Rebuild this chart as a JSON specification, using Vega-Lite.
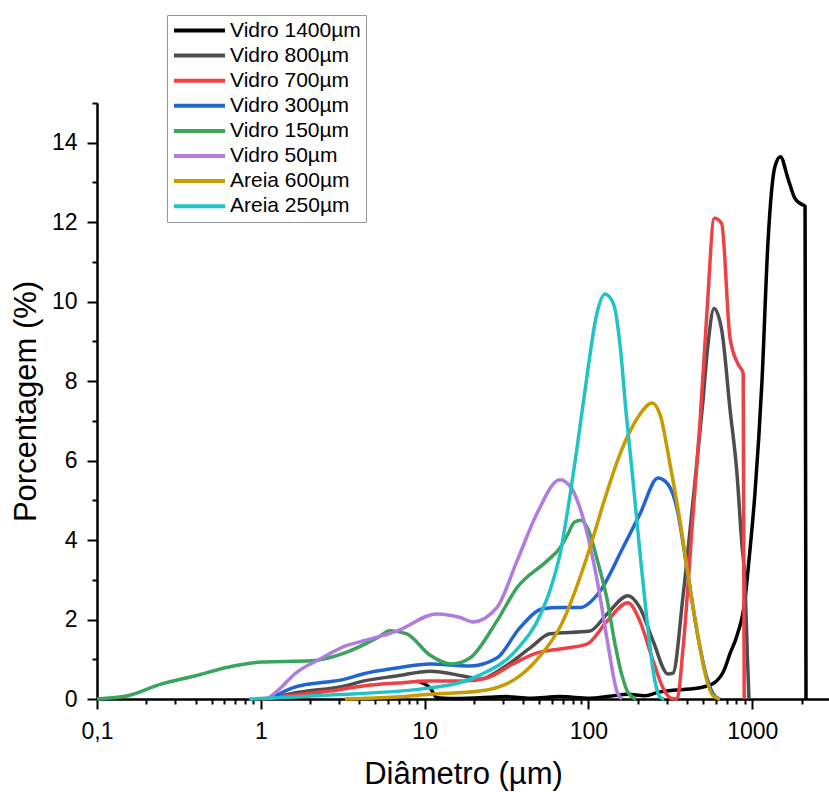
{
  "$schema": "https://vega.github.io/schema/vega-lite/v6.json",
  "autosize": {"type": "none"},
  "width": 732,
  "height": 596,
  "padding": {"left": 97, "top": 103, "right": 0, "bottom": 93},
  "background": "white",
  "config": {
    "view": {"stroke": null},
    "font": "Liberation Sans",
    "axis": {"grid": false, "domainColor": "black", "domainWidth": 2, "tickColor": "black", "tickWidth": 2, "labelColor": "black", "titleColor": "black", "labelFont": "Liberation Sans", "titleFont": "Liberation Sans", "titleFontWeight": "normal", "labelFlush": false, "labelOverlap": false}
  },
  "data": {"values": [
    {"serie": "Vidro 1400µm", "d": 9.0, "p": 0.45},
    {"serie": "Vidro 1400µm", "d": 10.8, "p": 0.28},
    {"serie": "Vidro 1400µm", "d": 11.9, "p": 0.03},
    {"serie": "Vidro 1400µm", "d": 14.3, "p": 0.01},
    {"serie": "Vidro 1400µm", "d": 21.7, "p": 0.03},
    {"serie": "Vidro 1400µm", "d": 31.8, "p": 0.06},
    {"serie": "Vidro 1400µm", "d": 43.9, "p": 0.02},
    {"serie": "Vidro 1400µm", "d": 66.9, "p": 0.06},
    {"serie": "Vidro 1400µm", "d": 102, "p": 0.02},
    {"serie": "Vidro 1400µm", "d": 135, "p": 0.07},
    {"serie": "Vidro 1400µm", "d": 174, "p": 0.12},
    {"serie": "Vidro 1400µm", "d": 220, "p": 0.08},
    {"serie": "Vidro 1400µm", "d": 273, "p": 0.18},
    {"serie": "Vidro 1400µm", "d": 328, "p": 0.22},
    {"serie": "Vidro 1400µm", "d": 417, "p": 0.25},
    {"serie": "Vidro 1400µm", "d": 500, "p": 0.3},
    {"serie": "Vidro 1400µm", "d": 592, "p": 0.42},
    {"serie": "Vidro 1400µm", "d": 672, "p": 0.72},
    {"serie": "Vidro 1400µm", "d": 731, "p": 1.14},
    {"serie": "Vidro 1400µm", "d": 807, "p": 1.6},
    {"serie": "Vidro 1400µm", "d": 903, "p": 2.5},
    {"serie": "Vidro 1400µm", "d": 955, "p": 3.5},
    {"serie": "Vidro 1400µm", "d": 1038, "p": 5.17},
    {"serie": "Vidro 1400µm", "d": 1146, "p": 8.0},
    {"serie": "Vidro 1400µm", "d": 1247, "p": 11.5},
    {"serie": "Vidro 1400µm", "d": 1375, "p": 13.4},
    {"serie": "Vidro 1400µm", "d": 1485, "p": 13.65},
    {"serie": "Vidro 1400µm", "d": 1651, "p": 13.1},
    {"serie": "Vidro 1400µm", "d": 1820, "p": 12.6},
    {"serie": "Vidro 1400µm", "d": 2000, "p": 12.45},
    {"serie": "Vidro 1400µm", "d": 2100, "p": 12.4},
    {"serie": "Vidro 1400µm", "d": 2128, "p": 0},

    {"serie": "Vidro 800µm", "d": 1.135, "p": 0},
    {"serie": "Vidro 800µm", "d": 1.61, "p": 0.15},
    {"serie": "Vidro 800µm", "d": 3.26, "p": 0.33},
    {"serie": "Vidro 800µm", "d": 4.2, "p": 0.45},
    {"serie": "Vidro 800µm", "d": 6.76, "p": 0.58},
    {"serie": "Vidro 800µm", "d": 10.8, "p": 0.7},
    {"serie": "Vidro 800µm", "d": 17.1, "p": 0.58},
    {"serie": "Vidro 800µm", "d": 21.7, "p": 0.5},
    {"serie": "Vidro 800µm", "d": 30, "p": 0.78},
    {"serie": "Vidro 800µm", "d": 43.9, "p": 1.28},
    {"serie": "Vidro 800µm", "d": 58.2, "p": 1.64},
    {"serie": "Vidro 800µm", "d": 102, "p": 1.71},
    {"serie": "Vidro 800µm", "d": 130, "p": 2.14},
    {"serie": "Vidro 800µm", "d": 174, "p": 2.6},
    {"serie": "Vidro 800µm", "d": 206, "p": 2.3},
    {"serie": "Vidro 800µm", "d": 248, "p": 1.46},
    {"serie": "Vidro 800µm", "d": 306, "p": 0.63},
    {"serie": "Vidro 800µm", "d": 328, "p": 0.65},
    {"serie": "Vidro 800µm", "d": 378, "p": 2.6},
    {"serie": "Vidro 800µm", "d": 435, "p": 5.0},
    {"serie": "Vidro 800µm", "d": 500, "p": 7.5},
    {"serie": "Vidro 800µm", "d": 536, "p": 8.9},
    {"serie": "Vidro 800µm", "d": 584, "p": 9.83},
    {"serie": "Vidro 800µm", "d": 653, "p": 9.25},
    {"serie": "Vidro 800µm", "d": 731, "p": 7.3},
    {"serie": "Vidro 800µm", "d": 807, "p": 5.66},
    {"serie": "Vidro 800µm", "d": 860, "p": 4.0},
    {"serie": "Vidro 800µm", "d": 903, "p": 2.9},
    {"serie": "Vidro 800µm", "d": 935, "p": 1.0},
    {"serie": "Vidro 800µm", "d": 955, "p": 0},

    {"serie": "Vidro 700µm", "d": 1.01, "p": 0},
    {"serie": "Vidro 700µm", "d": 1.61, "p": 0.1},
    {"serie": "Vidro 700µm", "d": 2.64, "p": 0.2},
    {"serie": "Vidro 700µm", "d": 4.2, "p": 0.33},
    {"serie": "Vidro 700µm", "d": 6.76, "p": 0.4},
    {"serie": "Vidro 700µm", "d": 10.8, "p": 0.45},
    {"serie": "Vidro 700µm", "d": 17.1, "p": 0.45},
    {"serie": "Vidro 700µm", "d": 24, "p": 0.53},
    {"serie": "Vidro 700µm", "d": 34.6, "p": 0.88},
    {"serie": "Vidro 700µm", "d": 48.5, "p": 1.16},
    {"serie": "Vidro 700µm", "d": 66.9, "p": 1.26},
    {"serie": "Vidro 700µm", "d": 97.8, "p": 1.38},
    {"serie": "Vidro 700µm", "d": 130, "p": 1.96},
    {"serie": "Vidro 700µm", "d": 174, "p": 2.42},
    {"serie": "Vidro 700µm", "d": 206, "p": 1.96},
    {"serie": "Vidro 700µm", "d": 248, "p": 0.96},
    {"serie": "Vidro 700µm", "d": 285, "p": 0.28},
    {"serie": "Vidro 700µm", "d": 315, "p": 0.03},
    {"serie": "Vidro 700µm", "d": 347, "p": 0},
    {"serie": "Vidro 700µm", "d": 378, "p": 1.28},
    {"serie": "Vidro 700µm", "d": 435, "p": 4.65},
    {"serie": "Vidro 700µm", "d": 480, "p": 7.0},
    {"serie": "Vidro 700µm", "d": 530, "p": 9.8},
    {"serie": "Vidro 700µm", "d": 586, "p": 12.1},
    {"serie": "Vidro 700µm", "d": 650, "p": 11.97},
    {"serie": "Vidro 700µm", "d": 731, "p": 9.09},
    {"serie": "Vidro 700µm", "d": 818, "p": 8.43},
    {"serie": "Vidro 700µm", "d": 880, "p": 8.2},
    {"serie": "Vidro 700µm", "d": 893, "p": 0},

    {"serie": "Vidro 300µm", "d": 1.135, "p": 0},
    {"serie": "Vidro 300µm", "d": 1.61, "p": 0.3},
    {"serie": "Vidro 300µm", "d": 3.26, "p": 0.5},
    {"serie": "Vidro 300µm", "d": 4.2, "p": 0.63},
    {"serie": "Vidro 300µm", "d": 6.76, "p": 0.78},
    {"serie": "Vidro 300µm", "d": 10.8, "p": 0.88},
    {"serie": "Vidro 300µm", "d": 18.9, "p": 0.83},
    {"serie": "Vidro 300µm", "d": 27.6, "p": 1.03},
    {"serie": "Vidro 300µm", "d": 38.1, "p": 1.79},
    {"serie": "Vidro 300µm", "d": 52.7, "p": 2.27},
    {"serie": "Vidro 300µm", "d": 66.9, "p": 2.3},
    {"serie": "Vidro 300µm", "d": 88.6, "p": 2.3},
    {"serie": "Vidro 300µm", "d": 117, "p": 2.7},
    {"serie": "Vidro 300µm", "d": 162, "p": 3.8},
    {"serie": "Vidro 300µm", "d": 206, "p": 4.65},
    {"serie": "Vidro 300µm", "d": 266, "p": 5.56},
    {"serie": "Vidro 300µm", "d": 306, "p": 5.4},
    {"serie": "Vidro 300µm", "d": 347, "p": 4.8},
    {"serie": "Vidro 300µm", "d": 399, "p": 3.3},
    {"serie": "Vidro 300µm", "d": 460, "p": 1.7},
    {"serie": "Vidro 300µm", "d": 529, "p": 0.53},
    {"serie": "Vidro 300µm", "d": 592, "p": 0.07},
    {"serie": "Vidro 300µm", "d": 635, "p": 0},

    {"serie": "Vidro 150µm", "d": 0.1, "p": 0},
    {"serie": "Vidro 150µm", "d": 0.154, "p": 0.08},
    {"serie": "Vidro 150µm", "d": 0.248, "p": 0.38},
    {"serie": "Vidro 150µm", "d": 0.395, "p": 0.58},
    {"serie": "Vidro 150µm", "d": 0.628, "p": 0.8},
    {"serie": "Vidro 150µm", "d": 1.01, "p": 0.93},
    {"serie": "Vidro 150µm", "d": 2.05, "p": 0.96},
    {"serie": "Vidro 150µm", "d": 3.26, "p": 1.16},
    {"serie": "Vidro 150µm", "d": 5.18, "p": 1.55},
    {"serie": "Vidro 150µm", "d": 6.13, "p": 1.72},
    {"serie": "Vidro 150µm", "d": 7.78, "p": 1.64},
    {"serie": "Vidro 150µm", "d": 10.8, "p": 1.1},
    {"serie": "Vidro 150µm", "d": 14.7, "p": 0.88},
    {"serie": "Vidro 150µm", "d": 18.9, "p": 1.03},
    {"serie": "Vidro 150µm", "d": 27.6, "p": 1.96},
    {"serie": "Vidro 150µm", "d": 36.6, "p": 2.8},
    {"serie": "Vidro 150µm", "d": 55.7, "p": 3.47},
    {"serie": "Vidro 150µm", "d": 66.9, "p": 3.8},
    {"serie": "Vidro 150µm", "d": 74.9, "p": 4.15},
    {"serie": "Vidro 150µm", "d": 82, "p": 4.45},
    {"serie": "Vidro 150µm", "d": 90, "p": 4.5},
    {"serie": "Vidro 150µm", "d": 100, "p": 4.25},
    {"serie": "Vidro 150µm", "d": 114, "p": 3.45},
    {"serie": "Vidro 150µm", "d": 130, "p": 2.5},
    {"serie": "Vidro 150µm", "d": 145, "p": 1.4},
    {"serie": "Vidro 150µm", "d": 160, "p": 0.6},
    {"serie": "Vidro 150µm", "d": 175, "p": 0.15},
    {"serie": "Vidro 150µm", "d": 195, "p": 0},

    {"serie": "Vidro 50µm", "d": 1.1, "p": 0},
    {"serie": "Vidro 50µm", "d": 1.3, "p": 0.25},
    {"serie": "Vidro 50µm", "d": 1.61, "p": 0.63},
    {"serie": "Vidro 50µm", "d": 2.36, "p": 1.03},
    {"serie": "Vidro 50µm", "d": 3.26, "p": 1.33},
    {"serie": "Vidro 50µm", "d": 4.2, "p": 1.46},
    {"serie": "Vidro 50µm", "d": 6.76, "p": 1.71},
    {"serie": "Vidro 50µm", "d": 11.9, "p": 2.14},
    {"serie": "Vidro 50µm", "d": 16.5, "p": 2.05},
    {"serie": "Vidro 50µm", "d": 19.7, "p": 1.94},
    {"serie": "Vidro 50µm", "d": 27.6, "p": 2.3},
    {"serie": "Vidro 50µm", "d": 36.6, "p": 3.47},
    {"serie": "Vidro 50µm", "d": 48.5, "p": 4.67},
    {"serie": "Vidro 50µm", "d": 67, "p": 5.52},
    {"serie": "Vidro 50µm", "d": 79, "p": 5.3},
    {"serie": "Vidro 50µm", "d": 92, "p": 4.6},
    {"serie": "Vidro 50µm", "d": 114, "p": 2.9},
    {"serie": "Vidro 50µm", "d": 130, "p": 1.5},
    {"serie": "Vidro 50µm", "d": 149, "p": 0.2},
    {"serie": "Vidro 50µm", "d": 160, "p": 0},

    {"serie": "Areia 600µm", "d": 3.26, "p": 0},
    {"serie": "Areia 600µm", "d": 6.76, "p": 0.05},
    {"serie": "Areia 600µm", "d": 10.8, "p": 0.12},
    {"serie": "Areia 600µm", "d": 21.7, "p": 0.2},
    {"serie": "Areia 600µm", "d": 36.6, "p": 0.53},
    {"serie": "Areia 600µm", "d": 51, "p": 1.1},
    {"serie": "Areia 600µm", "d": 66.9, "p": 1.8},
    {"serie": "Areia 600µm", "d": 102, "p": 3.8},
    {"serie": "Areia 600µm", "d": 125, "p": 5.0},
    {"serie": "Areia 600µm", "d": 149, "p": 5.95},
    {"serie": "Areia 600µm", "d": 175, "p": 6.65},
    {"serie": "Areia 600µm", "d": 205, "p": 7.15},
    {"serie": "Areia 600µm", "d": 244, "p": 7.45},
    {"serie": "Areia 600µm", "d": 273, "p": 7.17},
    {"serie": "Areia 600µm", "d": 315, "p": 5.9},
    {"serie": "Areia 600µm", "d": 362, "p": 4.48},
    {"serie": "Areia 600µm", "d": 417, "p": 2.8},
    {"serie": "Areia 600µm", "d": 480, "p": 1.28},
    {"serie": "Areia 600µm", "d": 529, "p": 0.45},
    {"serie": "Areia 600µm", "d": 576, "p": 0.08},
    {"serie": "Areia 600µm", "d": 635, "p": 0},

    {"serie": "Areia 250µm", "d": 0.85, "p": 0},
    {"serie": "Areia 250µm", "d": 2.64, "p": 0.1},
    {"serie": "Areia 250µm", "d": 10.8, "p": 0.28},
    {"serie": "Areia 250µm", "d": 21.7, "p": 0.6},
    {"serie": "Areia 250µm", "d": 36.6, "p": 1.25},
    {"serie": "Areia 250µm", "d": 50.6, "p": 2.1},
    {"serie": "Areia 250µm", "d": 60, "p": 2.9},
    {"serie": "Areia 250µm", "d": 67.5, "p": 3.7},
    {"serie": "Areia 250µm", "d": 75, "p": 4.8},
    {"serie": "Areia 250µm", "d": 85, "p": 6.3},
    {"serie": "Areia 250µm", "d": 97, "p": 8.0},
    {"serie": "Areia 250µm", "d": 112, "p": 9.66},
    {"serie": "Areia 250µm", "d": 126, "p": 10.19},
    {"serie": "Areia 250µm", "d": 142, "p": 9.95},
    {"serie": "Areia 250µm", "d": 156, "p": 8.9},
    {"serie": "Areia 250µm", "d": 170, "p": 7.18},
    {"serie": "Areia 250µm", "d": 187, "p": 5.5},
    {"serie": "Areia 250µm", "d": 206, "p": 3.7},
    {"serie": "Areia 250µm", "d": 226, "p": 2.1},
    {"serie": "Areia 250µm", "d": 254, "p": 0.47},
    {"serie": "Areia 250µm", "d": 273, "p": 0.05},
    {"serie": "Areia 250µm", "d": 290, "p": 0}
  ]},
  "layer": [
    {
      "mark": {"type": "point", "opacity": 0},
      "encoding": {
        "x": {"field": "d", "type": "quantitative", "scale": {"type": "log", "domain": [0.1, 2940], "nice": false},
          "axis": {"orient": "bottom", "values": [0.2,0.3,0.4,0.5,0.6,0.7,0.8,0.9,2,3,4,5,6,7,8,9,20,30,40,50,60,70,80,90,200,300,400,500,600,700,800,900,2000], "labels": false, "tickSize": 5, "title": null}},
        "y": {"field": "p", "type": "quantitative", "scale": {"domain": [0, 15], "nice": false},
          "axis": {"orient": "left", "values": [1,3,5,7,9,11,13,15], "labels": false, "tickSize": 5, "title": null}}
      }
    },
    {
      "mark": {"type": "line", "interpolate": "monotone", "strokeWidth": 3.5, "strokeJoin": "round"},
      "encoding": {
        "x": {"field": "d", "type": "quantitative", "scale": {"type": "log", "domain": [0.1, 2940], "nice": false},
          "axis": {"orient": "bottom", "values": [0.1, 1, 10, 100, 1000], "labelExpr": "datum.value < 0.5 ? '0,1' : format(datum.value, 'd')", "tickSize": 10, "labelFontSize": 23, "labelPadding": 11, "title": "Diâmetro (µm)", "titleFontSize": 31, "titlePadding": 16}},
        "y": {"field": "p", "type": "quantitative", "scale": {"domain": [0, 15], "nice": false},
          "axis": {"orient": "left", "values": [0, 2, 4, 6, 8, 10, 12, 14], "tickSize": 10, "labelFontSize": 23, "labelPadding": 10, "title": "Porcentagem (%)", "titleFontSize": 31, "titlePadding": 9}},
        "color": {"field": "serie", "type": "nominal",
          "scale": {"domain": ["Vidro 1400µm", "Vidro 800µm", "Vidro 700µm", "Vidro 300µm", "Vidro 150µm", "Vidro 50µm", "Areia 600µm", "Areia 250µm"],
                    "range": ["#000000", "#4d4d4d", "#ef4145", "#2064d6", "#3aa35c", "#b07cdf", "#c89b00", "#20c4c6"]},
          "legend": {"orient": "none", "legendX": 70, "legendY": -88, "title": null, "symbolType": "stroke", "symbolSize": 2600, "symbolStrokeWidth": 4, "labelFontSize": 21, "labelFont": "Liberation Sans", "labelColor": "black", "rowPadding": 3.1, "clipHeight": 21, "padding": 5, "strokeColor": "#999999", "fillColor": "white", "labelOffset": 3, "labelLimit": 0}}
      }
    }
  ],
  "resolve": {"axis": {"x": "independent", "y": "independent"}}
}
